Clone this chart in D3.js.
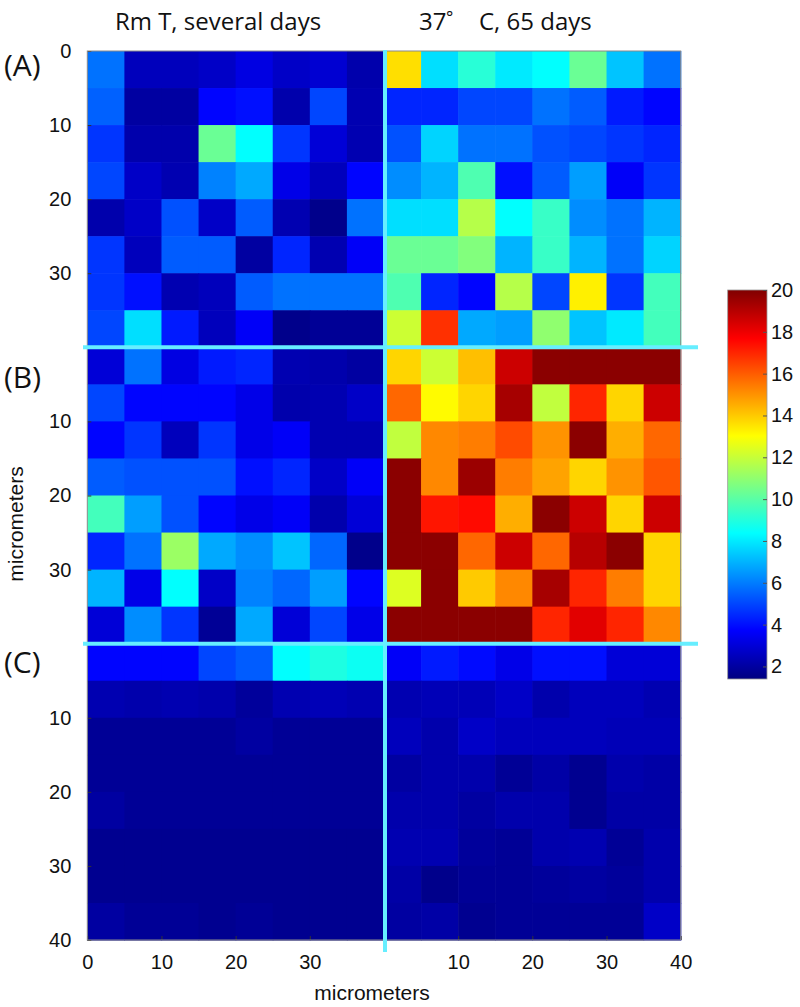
<!DOCTYPE html>
<html>
<head>
<meta charset="utf-8">
<script src="https://cdn.jsdelivr.net/npm/d3@7/dist/d3.min.js"></script>
<style>
  body { margin: 0; background: #fff; }
  .tick text { font-family: "Liberation Sans", Arial, sans-serif; font-size: 20px; fill: #111; }
</style>
</head>
<body>
<svg id="chart" width="800" height="1007"></svg>
<script>
// values, rows top to bottom, each cell 5 micrometers
var colTitles = ["Rm T, several days", "37", "°", "C, 65 days"];
var panelNames = ["(A)", "(B)", "(C)"];

var aRoom = [
  [5.8, 2.5, 2.5, 2.7, 3.2, 2.7, 2.9, 2.2],
  [5.5, 2.0, 2.0, 3.8, 4.0, 2.2, 5.0, 2.3],
  [4.7, 2.2, 2.2, 10.3, 8.4, 4.7, 3.0, 2.3],
  [5.0, 2.7, 2.3, 6.1, 6.8, 3.3, 2.5, 3.8],
  [2.2, 2.7, 5.2, 2.7, 5.4, 2.3, 1.6, 5.8],
  [4.7, 2.5, 5.4, 5.4, 2.0, 4.4, 2.3, 3.6],
  [4.7, 4.0, 2.3, 2.5, 5.4, 5.8, 5.8, 5.8],
  [5.0, 7.8, 4.2, 2.5, 3.6, 1.6, 1.8, 1.8]
];
var aWarm = [
  [13.6, 7.8, 9.1, 8.0, 8.4, 10.3, 7.3, 5.8],
  [4.4, 4.4, 5.0, 5.0, 5.8, 5.4, 4.2, 3.8],
  [5.2, 7.6, 5.8, 5.8, 5.2, 5.0, 4.7, 4.4],
  [6.3, 7.0, 9.8, 4.0, 5.4, 6.6, 3.6, 4.7],
  [7.8, 7.8, 11.7, 8.4, 9.4, 6.3, 5.8, 7.0],
  [10.3, 10.3, 10.75, 7.0, 9.4, 7.0, 5.8, 7.6],
  [9.8, 4.4, 3.8, 11.7, 5.0, 13.3, 4.7, 9.6],
  [12.1, 16.8, 6.8, 6.6, 11.0, 7.3, 8.0, 9.6]
];
var bRoom = [
  [3.0, 5.8, 3.2, 4.2, 4.4, 2.3, 2.2, 2.0],
  [5.0, 3.8, 3.8, 3.8, 3.3, 2.2, 2.3, 2.7],
  [3.8, 4.7, 2.5, 4.7, 3.3, 3.6, 2.3, 2.3],
  [5.4, 5.2, 5.2, 5.2, 4.0, 4.4, 2.7, 3.6],
  [9.6, 6.6, 5.2, 3.8, 3.3, 3.6, 2.2, 3.0],
  [4.4, 5.8, 11.2, 6.8, 6.3, 7.3, 5.6, 1.6],
  [7.0, 3.3, 8.4, 2.7, 6.1, 5.6, 6.6, 3.8],
  [3.0, 6.3, 4.7, 1.8, 6.8, 3.0, 5.0, 3.3]
];
var bWarm = [
  [13.8, 12.1, 14.2, 18.6, 19.8, 19.8, 19.8, 19.8],
  [15.8, 13.1, 13.8, 19.3, 11.9, 17.0, 13.8, 18.6],
  [11.9, 15.2, 15.4, 16.3, 15.0, 19.8, 14.5, 15.8],
  [19.8, 15.2, 19.5, 15.4, 14.7, 13.8, 15.0, 16.1],
  [19.8, 17.3, 17.5, 14.5, 19.8, 18.6, 13.8, 18.6],
  [19.8, 19.8, 15.8, 18.6, 15.8, 19.0, 19.8, 13.8],
  [12.4, 19.8, 14.0, 15.2, 19.3, 17.0, 15.4, 13.8],
  [19.8, 19.8, 19.8, 19.8, 17.0, 18.2, 17.0, 15.2]
];
var cRoom = [
  [3.8, 3.8, 3.8, 5.0, 5.4, 8.4, 8.9, 8.6],
  [2.3, 2.2, 2.3, 2.2, 1.9, 2.3, 2.4, 2.3],
  [1.8, 1.8, 1.8, 1.8, 2.0, 1.8, 1.8, 1.8],
  [1.8, 1.8, 1.8, 1.8, 1.8, 1.8, 1.8, 1.8],
  [2.0, 1.8, 1.8, 1.8, 1.8, 1.8, 1.8, 1.8],
  [1.7, 1.7, 1.7, 1.7, 1.7, 1.7, 1.7, 1.7],
  [1.7, 1.7, 1.7, 1.7, 1.7, 1.7, 1.7, 1.7],
  [2.0, 1.8, 1.8, 1.7, 1.8, 1.7, 1.7, 1.7]
];
var cWarm = [
  [3.6, 4.2, 3.9, 3.3, 4.0, 4.0, 3.0, 3.0],
  [2.3, 2.4, 2.4, 2.7, 2.2, 2.5, 2.5, 2.3],
  [2.5, 2.2, 2.7, 2.5, 2.5, 2.5, 2.4, 2.4],
  [2.0, 2.2, 2.2, 1.8, 2.1, 1.7, 2.2, 2.1],
  [2.2, 2.2, 2.0, 2.2, 2.2, 1.7, 2.1, 2.1],
  [2.3, 2.3, 1.9, 1.8, 2.2, 2.3, 1.8, 2.2],
  [2.1, 1.6, 1.8, 1.8, 1.9, 2.0, 1.9, 2.2],
  [2.0, 2.1, 1.7, 1.8, 1.8, 1.8, 1.8, 2.7]
];

var colorTicks = [2, 4, 6, 8, 10, 12, 14, 16, 18, 20];
var yTicks = [[0, 10, 20, 30], [10, 20, 30], [10, 20, 30, 40]];
var xTicks = [[0, 10, 20, 30], [10, 20, 30, 40]];

var grids = [[aRoom, aWarm], [bRoom, bWarm], [cRoom, cWarm]];
var cellSize = 5;

// jet colormap
var vmin = 1.4, vmax = 20;
var jetStops = [0, 0.125, 0.375, 0.625, 0.875, 1];
var jetColors = ["#000080", "#0000ff", "#00ffff", "#ffff00", "#ff0000", "#800000"];
var toT = d3.scaleLinear().domain([vmin, vmax]).range([0, 1]).clamp(true);
var jet = d3.scaleLinear().domain(jetStops).range(jetColors).interpolate(d3.interpolateRgb);
var color = v => jet(toT(v));

var svg = d3.select("#chart");

var xEdges = [87.3, 384, 680.7];
var yEdges = [51, 347.3, 643.7, 940];
var lineColor = "#66eeff";

var cells = svg.append("g");
var axes = svg.append("g");

grids.forEach(function(row, r) {
  row.forEach(function(grid, c) {
    var x = d3.scaleLinear().domain([0, 40]).range([xEdges[c], xEdges[c + 1]]);
    var y = d3.scaleLinear().domain([0, 40]).range([yEdges[r], yEdges[r + 1]]);
    var flat = [];
    grid.forEach((vals, i) => vals.forEach((v, j) => flat.push({ i: i, j: j, v: v })));

    cells.append("g")
      .selectAll("rect")
      .data(flat)
      .enter()
      .append("rect")
      .attr("x", d => x(d.j * cellSize))
      .attr("y", d => y(d.i * cellSize))
      .attr("width", x(cellSize) - x(0) + 0.6)
      .attr("height", y(cellSize) - y(0) + 0.6)
      .attr("fill", d => color(d.v));

    if (c === 0) {
      axes.append("g")
        .attr("transform", "translate(" + xEdges[0] + ",0)")
        .call(d3.axisLeft(y).tickValues(yTicks[r]).tickSize(-4).tickPadding(16))
        .call(g => g.select(".domain").remove())
        .call(g => g.selectAll("line").attr("stroke", "#333"));
    }
    if (r === 2) {
      axes.append("g")
        .attr("transform", "translate(0," + yEdges[3] + ")")
        .call(d3.axisBottom(x).tickValues(xTicks[c]).tickSize(-4).tickPadding(15))
        .call(g => g.select(".domain").remove())
        .call(g => g.selectAll("line").attr("stroke", "#333"));
    }
  });
});

// thin frame round the whole plot
svg.append("rect")
  .attr("x", xEdges[0]).attr("y", yEdges[0])
  .attr("width", xEdges[2] - xEdges[0]).attr("height", yEdges[3] - yEdges[0])
  .attr("fill", "none").attr("stroke", "#8a8a8a").attr("stroke-width", 1);

// cyan separators
svg.append("line")
  .attr("x1", 385).attr("x2", 385).attr("y1", 50).attr("y2", 952)
  .attr("stroke", lineColor).attr("stroke-width", 4);
[yEdges[1], yEdges[2]].forEach(function(yy) {
  svg.append("line")
    .attr("x1", 83).attr("x2", 698).attr("y1", yy).attr("y2", yy)
    .attr("stroke", lineColor).attr("stroke-width", 4);
});

// titles
var titleFont = "'Open Sans', sans-serif";
svg.append("text")
  .attr("x", 218).attr("y", 30)
  .attr("text-anchor", "middle")
  .attr("font-family", titleFont).attr("font-size", 24).attr("fill", "#111")
  .text(colTitles[0]);
var t2 = svg.append("text")
  .attr("y", 30)
  .attr("font-family", titleFont).attr("font-size", 24).attr("fill", "#111");
t2.append("tspan").attr("x", 419).text(colTitles[1]);
t2.append("tspan").attr("x", 446).attr("dy", -7).attr("font-size", 17).text(colTitles[2]);
t2.append("tspan").attr("x", 479).attr("dy", 7).text(colTitles[3]);

// panel letters
[76, 388, 673].forEach(function(yy, k) {
  svg.append("text")
    .attr("x", 4).attr("y", yy)
    .attr("font-family", titleFont).attr("font-size", 30).attr("fill", "#111")
    .text(panelNames[k]);
});

// axis names
var axisFont = "'Liberation Sans', Arial, sans-serif";
svg.append("text")
  .attr("transform", "translate(23,524) rotate(-90)")
  .attr("text-anchor", "middle")
  .attr("font-family", axisFont).attr("font-size", 21).attr("fill", "#111")
  .text("micrometers");
svg.append("text")
  .attr("x", 372).attr("y", 1000)
  .attr("text-anchor", "middle")
  .attr("font-family", axisFont).attr("font-size", 21).attr("fill", "#111")
  .text("micrometers");

// colorbar
var cbX = 727.7, cbW = 39.3;
var cbScale = d3.scaleLinear().domain([vmin, vmax]).range([679, 290]);
var grad = svg.append("defs").append("linearGradient")
  .attr("id", "jetGrad").attr("x1", 0).attr("y1", 1).attr("x2", 0).attr("y2", 0);
grad.selectAll("stop")
  .data(jetStops)
  .enter()
  .append("stop")
  .attr("offset", d => d)
  .attr("stop-color", (d, i) => jetColors[i]);
svg.append("rect")
  .attr("x", cbX).attr("y", cbScale(vmax))
  .attr("width", cbW).attr("height", cbScale(vmin) - cbScale(vmax))
  .attr("fill", "url(#jetGrad)")
  .attr("stroke", "#999").attr("stroke-width", 0.8);
svg.append("g")
  .attr("transform", "translate(" + (cbX + cbW) + ",0)")
  .call(d3.axisRight(cbScale).tickValues(colorTicks).tickSize(-4).tickPadding(4))
  .call(g => g.select(".domain").remove())
  .call(g => g.selectAll("line").attr("stroke", "#555"));
</script>
</body>
</html>
